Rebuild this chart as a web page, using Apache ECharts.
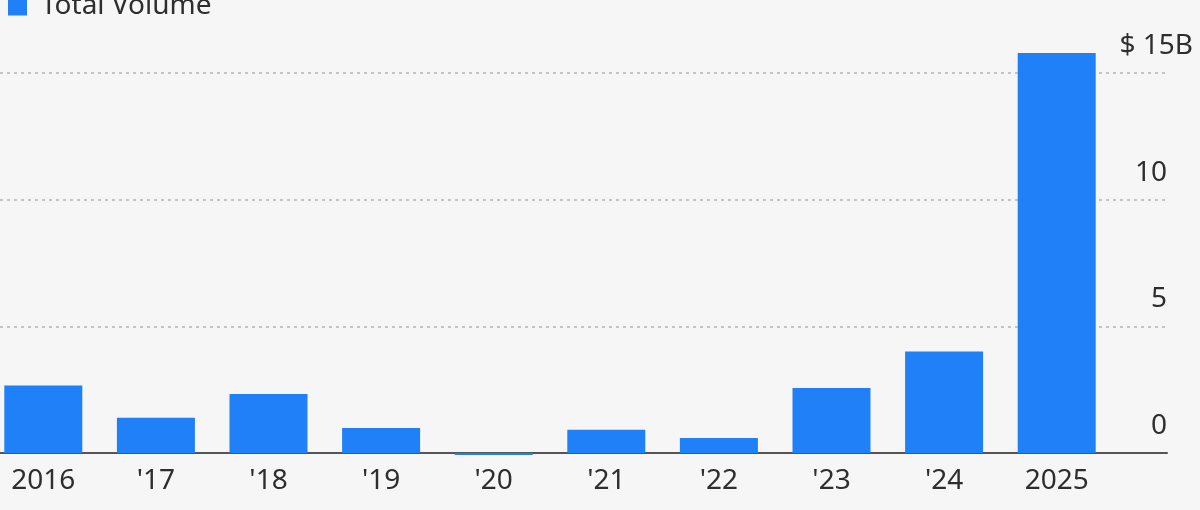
<!DOCTYPE html>
<html>
<head>
<meta charset="utf-8">
<script src="https://cdn.jsdelivr.net/npm/echarts@6/dist/echarts.min.js"></script>
<style>
html,body{margin:0;padding:0;background:#f7f6f7;}
#c{width:1200px;height:510px;}
</style>
</head>
<body>
<div id="c"></div>
<script>
const categories = ['2016', "'17", "'18", "'19", "'20", "'21", "'22", "'23", "'24", '2025'];
const totalVolume = [2.66, 1.39, 2.33, 0.99, -0.08, 0.92, 0.59, 2.57, 4.01, 15.79];
const yTicks = [0, 5, 10, 15];

const FONT = '"Noto Sans", "Open Sans", sans-serif';
const TXT = '#2e2e2e';
const BLUE = '#1f80f7';

const chart = echarts.init(document.getElementById('c'), null, {renderer: 'canvas'});
chart.setOption({
  backgroundColor: '#f7f6f7',
  animation: false,
  legend: {
    left: 8, top: -8, padding: 0,
    icon: 'rect', itemWidth: 19, itemHeight: 19,
    textStyle: {fontFamily: FONT, fontSize: 28, color: TXT, lineHeight: 28, padding: [0, 0, 0, 9]},
    data: ['Total Volume']
  },
  grid: [
    {left: -13, right: 87, top: 73, bottom: 57, outerBoundsMode: 'none', containLabel: false},
    {left: 0, right: 33, top: 73, bottom: 57, outerBoundsMode: 'none', containLabel: false}
  ],
  xAxis: [
    {
      gridIndex: 0, type: 'category', data: categories,
      axisLine: {show: false}, axisTick: {show: false},
      axisLabel: {fontFamily: FONT, fontSize: 28, color: TXT, margin: 14, lineHeight: 28}
    },
    {
      gridIndex: 1, type: 'category', data: [''],
      axisLine: {show: true, lineStyle: {color: '#555555', width: 2}},
      axisTick: {show: false}, axisLabel: {show: false}
    }
  ],
  yAxis: [
    {
      gridIndex: 0, type: 'value', min: yTicks[0], max: yTicks[yTicks.length - 1], interval: 5,
      show: false, splitLine: {show: false}
    },
    {
      gridIndex: 1, type: 'value', position: 'right',
      min: yTicks[0], max: yTicks[yTicks.length - 1], interval: 5,
      axisLine: {show: false}, axisTick: {show: false},
      splitLine: {show: true, lineStyle: {color: '#b4b4b4', width: 1.5, type: [3, 4]}},
      axisLabel: {
        inside: true, margin: -26,
        fontFamily: FONT, fontSize: 28, color: TXT, lineHeight: 28,
        padding: [0, 0, 54, 0],
        formatter: function (v) {
          return v === yTicks[yTicks.length - 1] ? '$ ' + v + 'B' : v + '{g|}';
        },
        rich: {g: {width: 26, fontSize: 28, lineHeight: 28}}
      }
    }
  ],
  series: [{
    name: 'Total Volume', type: 'bar',
    xAxisIndex: 0, yAxisIndex: 0,
    data: totalVolume, barWidth: 78, clip: false,
    itemStyle: {color: BLUE}
  }]
});
</script>
</body>
</html>
